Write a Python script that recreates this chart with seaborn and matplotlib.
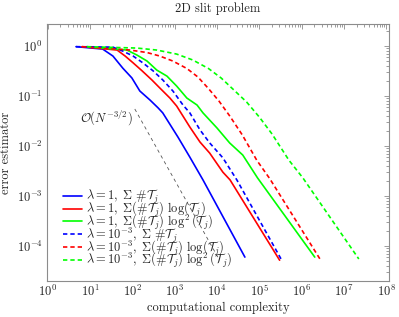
import numpy as np
import pandas as pd
import matplotlib
matplotlib.use('Agg')
import matplotlib.pyplot as plt
import seaborn as sns

# values (log-log axes)
blue_solid_x = [4.7, 20, 35, 60, 98, 151, 263, 407, 525, 1200, 2290, 4680, 45700]
blue_solid_y = [0.97, 0.87, 0.63, 0.36, 0.23, 0.126, 0.083, 0.058, 0.046, 0.0151, 0.0060, 0.0021, 6.0e-5]

red_solid_x = [6.5, 44, 68, 105, 170, 290, 447, 776, 1120, 2290, 3980, 6760, 13800, 20400, 302000]
red_solid_y = [0.97, 0.83, 0.63, 0.46, 0.32, 0.21, 0.145, 0.091, 0.063, 0.024, 0.012, 0.0072, 0.0030, 0.0021, 5.2e-5]

green_solid_x = [8.5, 75, 129, 224, 380, 660, 1120, 1950, 3390, 4680, 10000, 20000, 40700, 91000, 2040000]
green_solid_y = [0.97, 0.83, 0.66, 0.50, 0.33, 0.25, 0.158, 0.091, 0.066, 0.046, 0.023, 0.0115, 0.0066, 0.0023, 6.0e-5]

blue_dashed_x = [4.7, 35, 60, 105, 178, 309, 525, 912, 1580, 2290, 3980, 6760, 13800, 29500, 339000]
blue_dashed_y = [0.97, 0.95, 0.79, 0.63, 0.46, 0.32, 0.21, 0.126, 0.066, 0.046, 0.021, 0.0115, 0.0058, 0.0021, 5.2e-5]

red_dashed_x = [6.5, 89, 224, 447, 912, 1950, 3550, 6310, 11200, 20000, 39800, 87100, 178000, 2820000]
red_dashed_y = [0.97, 0.83, 0.74, 0.63, 0.50, 0.355, 0.24, 0.141, 0.079, 0.040, 0.0166, 0.0052, 0.0022, 5.2e-5]

green_dashed_x = [8.5, 129, 380, 1120, 2690, 6310, 12600, 25100, 50100, 100000, 200000, 501000, 1070000, 22400000]
green_dashed_y = [0.97, 0.91, 0.83, 0.69, 0.525, 0.355, 0.229, 0.132, 0.076, 0.038, 0.0174, 0.0052, 0.0023, 5.5e-5]

# O(N^{-3/2}) reference line
ref_x = [115, 10500]
ref_y = [0.055, 6.0e-5]

labels = [
    r'$\lambda = 1,\ \Sigma\ \#\mathcal{T}_j$',
    r'$\lambda = 1,\ \Sigma(\#\mathcal{T}_j)\ \log(\mathcal{T}_j)$',
    r'$\lambda = 1,\ \Sigma(\#\mathcal{T}_j)\ \log^2(\mathcal{T}_j)$',
    r'$\lambda = 10^{-3},\ \Sigma\ \#\mathcal{T}_j$',
    r'$\lambda = 10^{-3},\ \Sigma(\#\mathcal{T}_j)\ \log(\mathcal{T}_j)$',
    r'$\lambda = 10^{-3},\ \Sigma(\#\mathcal{T}_j)\ \log^2(\mathcal{T}_j)$',
]

sns.set_theme(style='white')
plt.rcParams['font.family'] = 'serif'
plt.rcParams['font.serif'] = ['cmr10', 'DejaVu Serif']
plt.rcParams['mathtext.fontset'] = 'cm'
plt.rcParams['axes.unicode_minus'] = False
plt.rcParams['axes.formatter.use_mathtext'] = True
plt.rcParams['font.size'] = 9

fig = plt.figure(figsize=(3.99, 3.17), dpi=100)
ax = fig.add_axes([0.117, 0.1145, 0.8587, 0.8088])

frame = '#8c8c8c'
dash = (0, (2.6, 1.8))
series = [
    (blue_solid_x, blue_solid_y, 'blue', '-'),
    (red_solid_x, red_solid_y, 'red', '-'),
    (green_solid_x, green_solid_y, 'lime', '-'),
    (blue_dashed_x, blue_dashed_y, 'blue', dash),
    (red_dashed_x, red_dashed_y, 'red', dash),
    (green_dashed_x, green_dashed_y, 'lime', dash),
]
for (xs, ys, col, ls), lab in zip(series, labels):
    df = pd.DataFrame({'N': xs, 'err': ys})
    sns.lineplot(data=df, x='N', y='err', color=col, linestyle=ls, lw=1.2,
                 label=lab, sort=False, estimator=None, ax=ax)

sns.lineplot(x=ref_x, y=ref_y, color='#555555', lw=0.6, linestyle=(0, (4, 4)),
             ax=ax, legend=False, estimator=None)
ax.text(100, 0.036, r'$\mathcal{O}(N^{-3/2})$', ha='right', va='center', fontsize=9)

ax.set_xscale('log')
ax.set_yscale('log')
ax.set_xlim(10 ** -0.02, 10 ** 8.07)
ax.set_ylim(10 ** -4.694, 10 ** 0.434)
ax.set_xticks([10.0 ** k for k in range(0, 9)])
ax.set_yticks([10.0 ** k for k in range(-4, 1)])
ax.xaxis.set_minor_locator(matplotlib.ticker.LogLocator(base=10, subs=np.arange(2, 10), numticks=20))
ax.yaxis.set_minor_locator(matplotlib.ticker.LogLocator(base=10, subs=np.arange(2, 10), numticks=20))
ax.xaxis.set_minor_formatter(matplotlib.ticker.NullFormatter())
ax.yaxis.set_minor_formatter(matplotlib.ticker.NullFormatter())

for s in ax.spines.values():
    s.set_color(frame)
    s.set_linewidth(0.8)
ax.tick_params(which='both', direction='in', top=True, right=True, color=frame,
               labelsize=9, width=0.6)
ax.tick_params(which='major', length=3.5)
ax.tick_params(which='minor', length=2)
ax.tick_params(axis='x', which='major', pad=2)
ax.tick_params(axis='y', which='major', pad=3)

ax.set_xlabel('computational complexity', fontsize=9, labelpad=2)
ax.set_ylabel('error estimator', fontsize=9, labelpad=3)
ax.set_title('2D slit problem', fontsize=9, pad=9)

ax.legend(loc='upper left', bbox_to_anchor=(0.03, 0.385), frameon=False, fontsize=9,
          handlelength=1.5, handletextpad=0.3, labelspacing=-0.5, borderpad=0)

fig.savefig('out.png', dpi=100)
